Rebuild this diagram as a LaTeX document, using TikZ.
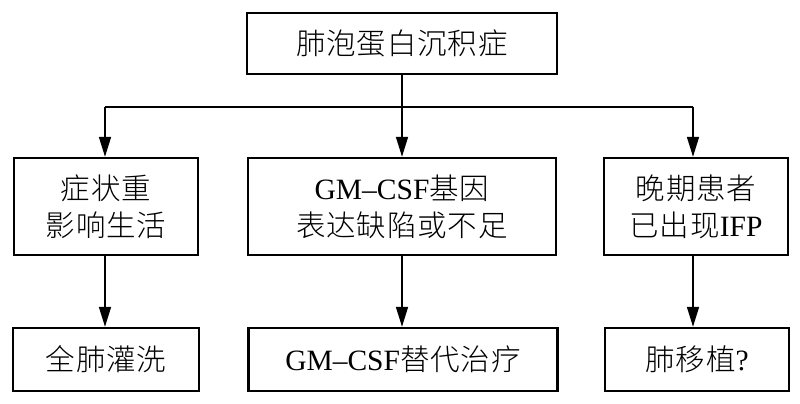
\documentclass[tikz,border=0pt]{standalone}
\usepackage{fontspec}
\setmainfont{Liberation Serif}
\IfFontExistsTF{Noto Sans CJK SC Light}
  {\newfontfamily\cjk[LetterSpace=3]{Noto Sans CJK SC Light}}
  {\newfontfamily\cjk[LetterSpace=3]{Noto Sans CJK SC}}
\usetikzlibrary{arrows.meta}
\begin{document}
\begin{tikzpicture}[x=1pt,y=-1pt,
  box/.style={draw=black,line width=2.4pt,inner sep=0pt,align=center,
    font=\fontsize{29.5}{37}\selectfont},
  arr/.style={line width=1.6pt,-{Triangle[length=20pt,width=12pt]}},
  ln/.style={line width=1.6pt}]
\useasboundingbox (0,0) rectangle (800,404);
\fill[white] (0,0) rectangle (800,404);
\node[box,minimum width=310pt,minimum height=61pt] (top) at (402,43.5) {\cjk 肺泡蛋白沉积症};
\node[box,minimum width=184pt,minimum height=97pt] (L) at (106,206.5) {\cjk 症状重\\\cjk 影响生活};
\node[box,minimum width=308pt,minimum height=97pt] (M) at (402,206.5) {GM–CSF{\cjk 基因}\\\cjk 表达缺陷或不足};
\node[box,minimum width=184pt,minimum height=97pt] (R) at (696,206.5) {\cjk 晚期患者\\{\cjk 已出现}IFP};
\node[box,minimum width=186pt,minimum height=63pt] (BL) at (106,359.5) {\cjk 全肺灌洗};
\node[box,minimum width=309pt,minimum height=63pt] (BM) at (403,359.5) {GM–CSF{\cjk 替代治疗}};
\node[box,minimum width=184pt,minimum height=63pt] (BR) at (697,359.5) {{\cjk 肺移植}?};
\coordinate (j) at (402,107);
\coordinate (jL) at (105,107);
\coordinate (jR) at (693,107);
\draw[ln] (jL) -- (jR);
\draw[arr] (top.south) -- (M.north);
\draw[arr] (jL) -- (jL |- L.north);
\draw[arr] (jR) -- (jR |- R.north);
\draw[arr] (L.south -| jL) -- (jL |- BL.north);
\draw[arr] (M.south) -- (M.south |- BM.north);
\draw[arr] (R.south -| jR) -- (jR |- BR.north);
\end{tikzpicture}
\end{document}
